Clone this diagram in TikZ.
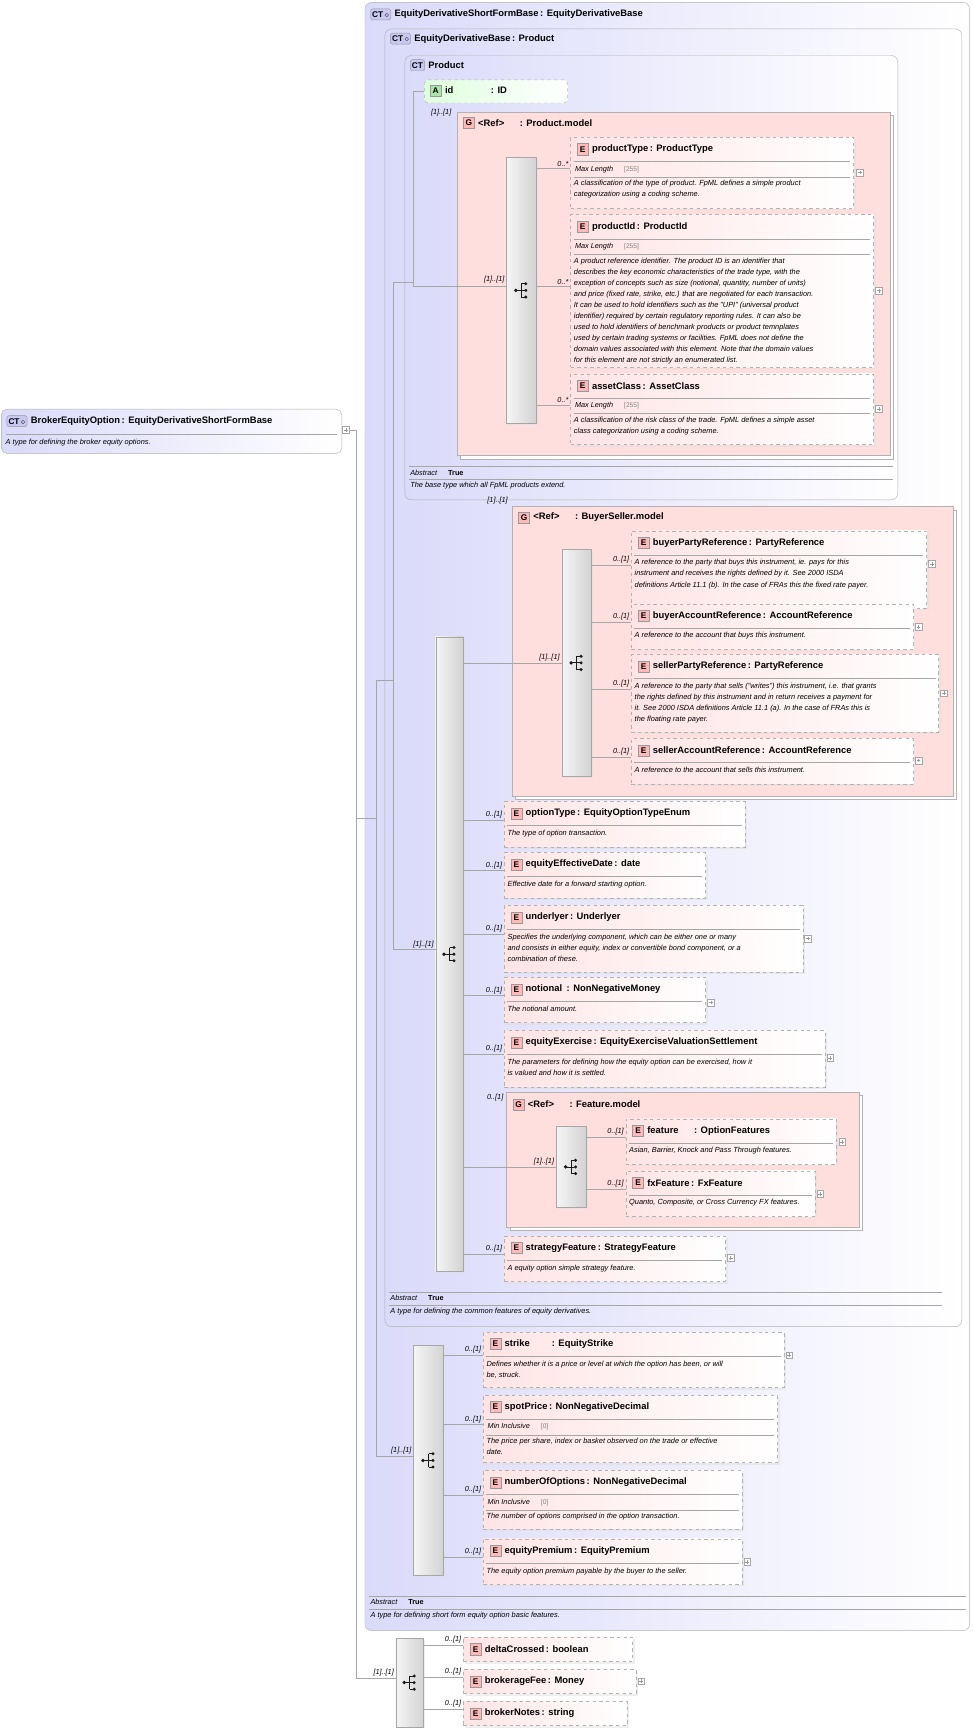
\documentclass[tikz,border=0pt]{standalone}
\usepackage{fontspec}
\setmainfont{Liberation Sans}
\usetikzlibrary{calc,shadows}
\definecolor{ctfill}{RGB}{218,218,250}
\definecolor{ctbadge}{RGB}{200,200,240}
\definecolor{gfill}{RGB}{255,222,222}
\definecolor{elfill}{RGB}{255,228,228}
\definecolor{ebadgec}{RGB}{255,185,185}
\definecolor{afill}{RGB}{222,255,222}
\definecolor{abadge}{RGB}{170,230,170}

\tikzset{
  ctbox/.style={draw=gray!60, rounded corners=6pt, left color=ctfill, right color=white, anchor=north west, inner sep=0pt},
  ctb/.style={draw=gray!80, rounded corners=2pt, fill=ctbadge, font=\fontsize{7.5}{8}\selectfont\bfseries, inner sep=1.5pt, minimum height=10pt, anchor=west},
  grp/.style={draw=gray!60, fill=gfill, anchor=north west, inner sep=0pt, drop shadow={shadow xshift=3pt, shadow yshift=-3pt, draw=gray!60, fill=white, opacity=1}},
  elem/.style={draw=gray!60, dashed, left color=elfill, right color=white, anchor=north west, inner sep=0pt, drop shadow={shadow xshift=2pt, shadow yshift=-2pt, fill=gray!25}},
  ebadge/.style={draw=gray!80, fill=ebadgec, font=\fontsize{7.5}{8}\selectfont\bfseries, inner sep=1.5pt, minimum size=10pt, anchor=west},
  etitle/.style={font=\fontsize{8.5}{10}\selectfont\bfseries, anchor=west, inner sep=3pt},
  edesc/.style={font=\fontsize{6.7}{10}\selectfont\itshape, anchor=north west, align=left, inner sep=1pt},
  facet/.style={font=\fontsize{6.6}{8}\selectfont\itshape, anchor=west, inner sep=1pt},
  sep/.style={draw=gray!70, line width=0.4pt},
  seq/.style={draw=gray!70, left color=gray!8, right color=gray!35, anchor=north west, inner sep=0pt, drop shadow={shadow xshift=1.5pt, shadow yshift=-1.5pt, fill=gray!25}},
  conn/.style={draw=gray!70, line width=0.5pt},
  mult/.style={font=\fontsize{6.6}{8}\selectfont\itshape, anchor=south east, inner sep=1.5pt},
  plus/.style={draw=gray!70, fill=white, minimum size=6pt, inner sep=0pt,
    path picture={\draw[gray!80] ([xshift=1.3pt]path picture bounding box.west) -- ([xshift=-1.3pt]path picture bounding box.east);
      \draw[gray!80] ([yshift=-1.3pt]path picture bounding box.north) -- ([yshift=1.3pt]path picture bounding box.south);}},
}

% element with separator and description
\newcommand{\elnode}[7]{%
  \node[elem, minimum width=#4pt, minimum height=#5pt] (#1) at (#2,#3) {};
  \node[ebadge] (#1-b) at ($(#1.north west)+(6,11)$) {E};
  \node[etitle] at (#1-b.east) {#6};
  \draw[sep] ($(#1.north west)+(3,22)$) -- ($(#1.north east)+(-3,22)$);
  \node[edesc] at ($(#1.north west)+(2,25)$) {#7};
}
% element with a facet row
\newcommand{\elfacet}[9]{%
  \node[elem, minimum width=#4pt, minimum height=#5pt] (#1) at (#2,#3) {};
  \node[ebadge] (#1-b) at ($(#1.north west)+(6,11)$) {E};
  \node[etitle] at (#1-b.east) {#6};
  \draw[sep] ($(#1.north west)+(3,22)$) -- ($(#1.north east)+(-3,22)$);
  \node[facet] at ($(#1.north west)+(3,29)$) {#7\hspace{10pt}{\color{gray}\upshape\fontsize{6}{7}\selectfont[#8]}};
  \draw[sep] ($(#1.north west)+(3,36)$) -- ($(#1.north east)+(-3,36)$);
  \node[edesc] at ($(#1.north west)+(2,38)$) {#9};
}
% element without description
\newcommand{\elsmall}[5]{%
  \node[elem, minimum width=#4pt, minimum height=22pt] (#1) at (#2,#3) {};
  \node[ebadge] (#1-b) at ($(#1.north west)+(6,11)$) {E};
  \node[etitle] at (#1-b.east) {#5};
}
\newcommand{\seqicon}[1]{%
  \begin{scope}[shift={(#1.center)}]
    \fill[gray!20!black] (-5,0) circle (1.7);
    \draw[gray!20!black, line width=0.8pt] (-5,0) -- (0,0) (0,-6) -- (0,6) (0,-6) -- (3,-6) (0,6) -- (3,6) (0,0) -- (3,0);
    \foreach \yy in {-6,0,6} \fill[gray!20!black] (4,\yy) circle (1.5);
  \end{scope}}
\newcommand{\link}[3]{%
  \coordinate (#2-in) at ($(#2.west)+(0,-4)$);
  \draw[conn] (#1.east |- #2-in) -- (#2-in) node[mult] {#3};
}
\newcommand{\abst}[4]{%
  \draw[sep] (#1,#3) -- (#2,#3);
  \node[facet] (ab#3) at (#1,#3+5.5) {Abstract\hspace{10pt}\upshape\bfseries True};
  \draw[sep] (#1,#3+11.5) -- (#2,#3+11.5);
  \node[edesc] (ad#3) at (#1,#3+13) {#4};
}

\begin{document}
\begin{tikzpicture}[x=1pt,y=-1pt]
\useasboundingbox (0,0) rectangle (880,1566);

% complex types
\node[ctbox, minimum width=308pt, minimum height=40pt, rounded corners=5pt] (bEO) at (1,370) {};
\node[ctb] (bEO-b) at (6,381) {CT\,$\diamond$};
\node[etitle] at (bEO-b.east) {BrokerEquityOption\,: EquityDerivativeShortFormBase};
\draw[sep] (5,393) -- (305,393);
\node[edesc] at (4,396) {A type for defining the broker equity options.};
\node[plus] (bEOp) at (313,389) {};

\node[ctbox, minimum width=547pt, minimum height=1473pt] (ctS) at (330,2) {};
\node[ctb] (ctS-b) at (335,13) {CT\,$\diamond$};
\node[etitle] at (ctS-b.east) {EquityDerivativeShortFormBase\,: EquityDerivativeBase};

\node[ctbox, minimum width=522pt, minimum height=1174pt] (ctB) at (348,26) {};
\node[ctb] (ctB-b) at (353,35) {CT\,$\diamond$};
\node[etitle] at (ctB-b.east) {EquityDerivativeBase\,: Product};

\node[ctbox, minimum width=446pt, minimum height=402pt] (ctP) at (366,50) {};
\node[ctb] (ctP-b) at (371,59) {CT};
\node[etitle] at (ctP-b.east) {Product};

% attribute
\node[draw=gray!60, dashed, rounded corners=3pt, left color=afill, right color=white, anchor=north west, minimum width=129pt, minimum height=21pt, inner sep=0pt] (aId) at (384,72) {};
\node[draw=gray!80, fill=abadge, font=\fontsize{7.5}{8}\selectfont\bfseries, inner sep=1.5pt, minimum size=10pt, anchor=west] (aId-b) at (389,82) {A};
\node[etitle] at (aId-b.east) {id\hspace{34pt}: ID};

% Product.model group
\node[grp, minimum width=392pt, minimum height=311pt] (gP) at (413,101) {};
\node[ebadge] (gP-b) at (419,111) {G};
\node[etitle] at (gP-b.east) {<Ref>\hspace{14pt}: Product.model};
\node[seq, minimum width=27pt, minimum height=241pt] (sP) at (458,142) {};
\seqicon{sP}
\elfacet{pType}{516}{124}{256}{64}{productType\,: ProductType}{Max Length}{255}{A classification of the type of product. FpML defines a simple product\\categorization using a coding scheme.}
\elfacet{pId}{516}{194}{274}{138}{productId\,: ProductId}{Max Length}{255}{A product reference identifier. The product ID is an identifier that\\describes the key economic characteristics of the trade type, with the\\exception of concepts such as size (notional, quantity, number of units)\\and price (fixed rate, strike, etc.) that are negotiated for each transaction.\\It can be used to hold identifiers such as the "UPI" (universal product\\identifier) required by certain regulatory reporting rules. It can also be\\used to hold identifiers of benchmark products or product temnplates\\used by certain trading systems or facilities. FpML does not define the\\domain values associated with this element. Note that the domain values\\for this element are not strictly an enumerated list.}
\elfacet{pAsset}{516}{338}{274}{64}{assetClass\,: AssetClass}{Max Length}{255}{A classification of the risk class of the trade. FpML defines a simple asset\\class categorization using a coding scheme.}
\link{sP}{pType}{0..*}
\link{sP}{pId}{0..*}
\link{sP}{pAsset}{0..*}
\node[plus] (pTypep) at (778,156) {};
\node[plus] (pIdp) at (795,263) {};
\node[plus] (pAssetp) at (795,370) {};
\abst{370}{808}{422}{The base type which all FpML products extend.}

% BuyerSeller.model group
\node[grp, minimum width=399pt, minimum height=262pt] (gB) at (463,458) {};
\node[ebadge] (gB-b) at (469,468) {G};
\node[etitle] at (gB-b.east) {<Ref>\hspace{14pt}: BuyerSeller.model};
\node[mult] (gBm) at (461,458) {[1]..[1]};
\node[seq, minimum width=27pt, minimum height=205pt] (sB) at (508,497) {};
\seqicon{sB}
\elnode{bPR}{571}{480}{267}{70}{buyerPartyReference\,: PartyReference}{A reference to the party that buys this instrument, ie. pays for this\\instrument and receives the rights defined by it. See 2000 ISDA\\definitions Article 11.1 (b). In the case of FRAs this the fixed rate payer.}
\elnode{bAR}{571}{546}{255}{41}{buyerAccountReference\,: AccountReference}{A reference to the account that buys this instrument.}
\elnode{sPR}{571}{592}{278}{70}{sellerPartyReference\,: PartyReference}{A reference to the party that sells ("writes") this instrument, i.e. that grants\\the rights defined by this instrument and in return receives a payment for\\it. See 2000 ISDA definitions Article 11.1 (a). In the case of FRAs this is\\the floating rate payer.}
\elnode{sAR}{571}{668}{255}{41}{sellerAccountReference\,: AccountReference}{A reference to the account that sells this instrument.}
\link{sB}{bPR}{0..[1]}
\link{sB}{bAR}{0..[1]}
\link{sB}{sPR}{0..[1]}
\link{sB}{sAR}{0..[1]}
\node[plus] (bPRp) at (843,510) {};
\node[plus] (bARp) at (831,567) {};
\node[plus] (sPRp) at (854,627) {};
\node[plus] (sARp) at (831,688) {};

% EquityDerivativeBase sequence
\node[seq, minimum width=25pt, minimum height=574pt] (sM) at (394,576) {};
\seqicon{sM}
\draw[conn] (sM.east |- sB.west) -- (sB.west) node[mult] {[1]..[1]};
\elnode{eOT}{456}{725}{218}{41}{optionType\,: EquityOptionTypeEnum}{The type of option transaction.}
\elnode{eED}{456}{771}{182}{41}{equityEffectiveDate\,: date}{Effective date for a forward starting option.}
\elnode{eUn}{456}{819}{270}{60}{underlyer\,: Underlyer}{Specifies the underlying component, which can be either one or many\\and consists in either equity, index or convertible bond component, or a\\combination of these.}
\elnode{eNo}{456}{884}{182}{41}{notional\hspace{4pt}: NonNegativeMoney}{The notional amount.}
\elnode{eEx}{456}{932}{290}{51}{equityExercise\,: EquityExerciseValuationSettlement}{The parameters for defining how the equity option can be exercised, how it\\is valued and how it is settled.}
\link{sM}{eOT}{0..[1]}
\link{sM}{eED}{0..[1]}
\link{sM}{eUn}{0..[1]}
\link{sM}{eNo}{0..[1]}
\link{sM}{eEx}{0..[1]}
\node[plus] (eUnp) at (731,849) {};
\node[plus] (eNop) at (643,907) {};
\node[plus] (eExp) at (751,957) {};

% Feature.model group
\node[grp, minimum width=319pt, minimum height=122pt] (gF) at (458,988) {};
\node[ebadge] (gF-b) at (464,999) {G};
\node[etitle] at (gF-b.east) {<Ref>\hspace{14pt}: Feature.model};
\node[mult] (gFm) at (457,998) {0..[1]};
\node[seq, minimum width=27pt, minimum height=73pt] (sF) at (503,1019) {};
\seqicon{sF}
\draw[conn] (sM.east |- sF.west) -- (sF.west) node[mult] {[1]..[1]};
\elnode{fFe}{566}{1012}{190}{41}{feature\hspace{14pt}: OptionFeatures}{Asian, Barrier, Knock and Pass Through features.}
\elnode{fFx}{566}{1059}{171}{41}{fxFeature\,: FxFeature}{Quanto, Composite, or Cross Currency FX features.}
\link{sF}{fFe}{0..[1]}
\link{sF}{fFx}{0..[1]}
\node[plus] (fFep) at (762,1033) {};
\node[plus] (fFxp) at (742,1080) {};

\elnode{eSF}{456}{1118}{200}{41}{strategyFeature\,: StrategyFeature}{A equity option simple strategy feature.}
\link{sM}{eSF}{0..[1]}
\node[plus] (eSFp) at (661,1138) {};
\abst{352}{852}{1169}{A type for defining the common features of equity derivatives.}

% EquityDerivativeShortFormBase sequence
\node[seq, minimum width=27pt, minimum height=208pt] (sS) at (374,1217) {};
\seqicon{sS}
\elnode{sSt}{437}{1205}{272}{50}{strike\hspace{20pt}: EquityStrike}{Defines whether it is a price or level at which the option has been, or will\\be, struck.}
\elfacet{sSp}{437}{1262}{266}{61}{spotPrice\,: NonNegativeDecimal}{Min Inclusive}{0}{The price per share, index or basket observed on the trade or effective\\date.}
\elfacet{sNo}{437}{1330}{234}{53}{numberOfOptions\,: NonNegativeDecimal}{Min Inclusive}{0}{The number of options comprised in the option transaction.}
\elnode{sEP}{437}{1392}{234}{41}{equityPremium\,: EquityPremium}{The equity option premium payable by the buyer to the seller.}
\link{sS}{sSt}{0..[1]}
\link{sS}{sSp}{0..[1]}
\link{sS}{sNo}{0..[1]}
\link{sS}{sEP}{0..[1]}
\node[plus] (sStp) at (714,1226) {};
\node[plus] (sEPp) at (676,1413) {};
\abst{334}{874}{1444}{A type for defining short form equity option basic features.}

% BrokerEquityOption sequence
\node[seq, minimum width=25pt, minimum height=80pt] (sT) at (358,1482) {};
\seqicon{sT}
\elsmall{tDC}{419}{1481}{153}{deltaCrossed\,: boolean}
\elsmall{tBF}{419}{1510}{156}{brokerageFee\,: Money}
\elsmall{tBN}{419}{1539}{148}{brokerNotes\,: string}
\link{sT}{tDC}{0..[1]}
\link{sT}{tBF}{0..[1]}
\link{sT}{tBN}{0..[1]}
\node[plus] (tBFp) at (580,1521) {};

% tree lines
\coordinate (j0) at (322,389);
\coordinate (j1) at (340,740);
\coordinate (j2) at (340,615);
\coordinate (j3) at (356,615);
\coordinate (j4) at (356,255);
\coordinate (j5) at (374,255);
\coordinate (sT-in) at ($(sT.west)+(0,-4)$);
\coordinate (sS-in) at ($(sS.west)+(0,-4)$);
\coordinate (sM-in) at ($(sM.west)+(0,-4)$);
\coordinate (sP-in) at ($(sP.west)+(0,-4)$);
\draw[conn] (bEOp) -- (j0) |- (sT-in) node[mult] {[1]..[1]};
\draw[conn] (j0 |- j1) -- (j1);
\draw[conn] (j2) |- (sS-in) node[mult] {[1]..[1]};
\draw[conn] (j2) -- (j3);
\draw[conn] (j4) |- (sM-in) node[mult] {[1]..[1]};
\draw[conn] (j4) -- (j5);
\draw[conn] (j5 |- aId.west) -- (aId.west);
\draw[conn] (j5 |- aId.west) -- (j5 |- sP-in) -- (sP-in);
\node[mult] (pm) at (458,258) {[1]..[1]};
\node[mult] (pma) at (410,107) {[1]..[1]};
\end{tikzpicture}
\end{document}
